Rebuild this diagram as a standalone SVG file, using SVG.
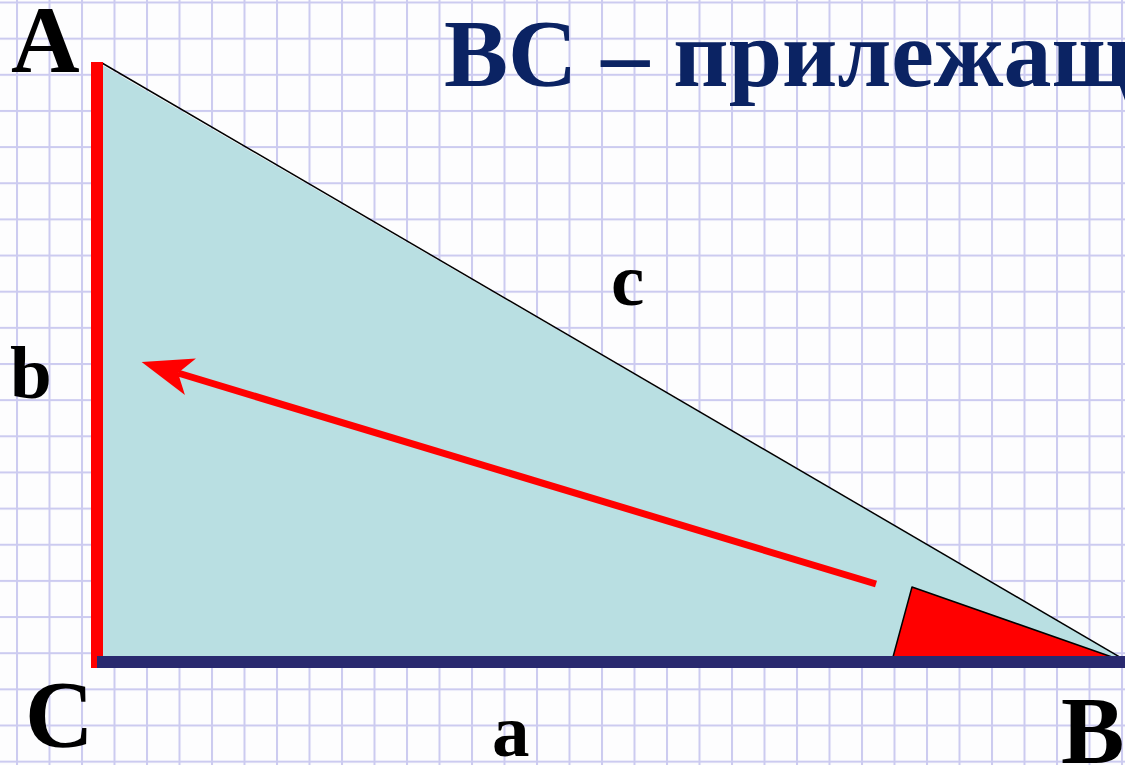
<svg xmlns="http://www.w3.org/2000/svg" width="1125" height="765" viewBox="0 0 1125 765">
<style>
.lbl{font-family:"Liberation Serif","Times New Roman",serif;font-weight:bold;fill:#000}
.title{font-family:"Liberation Serif","Times New Roman",serif;font-weight:bold;fill:#0b2363}
</style>
<defs>
<pattern id="grid" patternUnits="userSpaceOnUse" x="16" y="1.5" width="32.5" height="36.15">
<rect width="32.5" height="36.15" fill="#fdfdfe"/>
<rect x="0" y="0" width="2" height="36.15" fill="#cccbf0"/>
<rect x="0" y="0" width="32.5" height="2" fill="#cccbf0"/>
</pattern>
<marker id="arrow" markerUnits="userSpaceOnUse" viewBox="0 0 51 38" refX="13" refY="19" markerWidth="51" markerHeight="38" orient="auto">
<path d="M51,19 L0,0 L13,19 L0,38 Z" fill="#ff0000"/>
</marker>
</defs>
<rect width="1125" height="765" fill="url(#grid)"/>
<g id="triangle">
<polygon points="97,62 97,662 1125,660" fill="#b9dfe2"/>
<line x1="102" y1="63" x2="1125" y2="660" stroke="#000" stroke-width="1.5"/>
</g>
<g id="angle-B">
<polygon points="893,657 912,587 1112,657" fill="#ff0000" stroke="#000" stroke-width="1.5" stroke-linejoin="round"/>
</g>
<g id="sides">
<rect id="side-b" x="91" y="62" width="12" height="606" fill="#ff0000"/>
<rect id="side-a" x="97" y="656" width="1028" height="12" fill="#29296f"/>
</g>
<g id="connectors">
<line x1="876" y1="584" x2="178" y2="373" stroke="#ff0000" stroke-width="7" marker-end="url(#arrow)"/>
</g>
<g id="labels">
<text class="lbl" x="11" y="72" font-size="95">A</text>
<text class="lbl" x="10" y="398" font-size="75">b</text>
<text class="lbl" x="611" y="305" font-size="75">c</text>
<text class="lbl" x="492" y="756" font-size="75">a</text>
<text class="lbl" x="25" y="747" font-size="95">C</text>
<text class="lbl" x="1061" y="763" font-size="95">B</text>
</g>
<g id="title">
<text class="title" x="444" y="86" font-size="96">ВС – прилежащ</text>
</g>
</svg>
